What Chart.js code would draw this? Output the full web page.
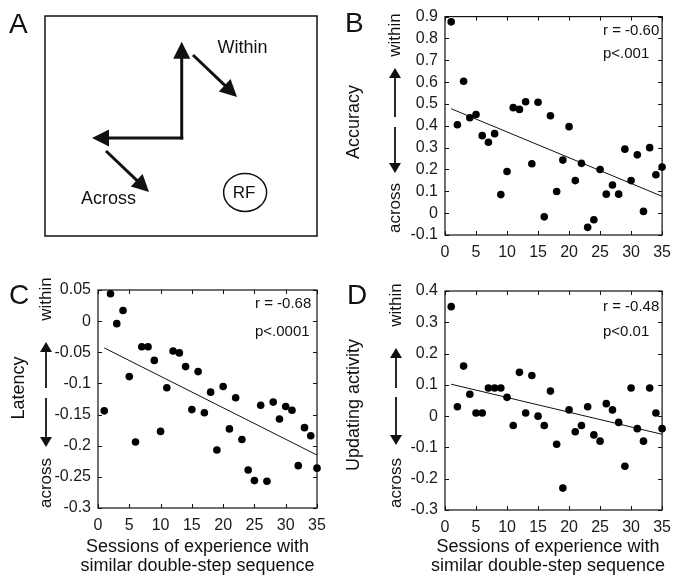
<!DOCTYPE html>
<html><head><meta charset="utf-8">
<script src="https://cdn.jsdelivr.net/npm/chart.js@4.4.0/dist/chart.umd.min.js"></script>
<style>
html,body{margin:0;padding:0;background:#fff;}
#wrap{position:relative;width:679px;height:582px;overflow:hidden;background:#fff;}
canvas{position:absolute;}
</style></head><body>
<div id="wrap">
<canvas id="cA" width="340" height="270" style="left:0;top:0;width:340px;height:270px"></canvas>
<canvas id="cB" width="339" height="270" style="left:340px;top:0;width:339px;height:270px"></canvas>
<canvas id="cC" width="340" height="312" style="left:0;top:270px;width:340px;height:312px"></canvas>
<canvas id="cD" width="339" height="312" style="left:340px;top:270px;width:339px;height:312px"></canvas>
</div>
<script>
// ---------- data ----------
const sessions = [1,2,3,4,5,6,7,8,9,10,11,12,13,14,15,16,17,18,19,20,21,22,23,24,25,26,27,28,29,30,31,32,33,34,35];
const accuracy = [0.876,0.405,0.604,0.437,0.452,0.355,0.325,0.364,0.085,0.191,0.483,0.475,0.51,0.226,0.508,-0.017,0.446,0.099,0.243,0.396,0.149,0.228,-0.065,-0.03,0.2,0.087,0.129,0.087,0.293,0.149,0.267,0.008,0.3,0.176,0.211];
const latency = [-0.144,0.044,-0.004,0.017,-0.089,-0.194,-0.041,-0.041,-0.063,-0.177,-0.107,-0.048,-0.051,-0.073,-0.142,-0.081,-0.147,-0.114,-0.207,-0.105,-0.173,-0.123,-0.19,-0.239,-0.256,-0.135,-0.257,-0.13,-0.157,-0.137,-0.143,-0.232,-0.171,-0.184,-0.236];
const updating = [0.35,0.03,0.16,0.07,0.01,0.01,0.09,0.09,0.09,0.06,-0.03,0.14,0.01,0.13,0,-0.03,0.08,-0.09,-0.23,0.02,-0.05,-0.03,0.03,-0.06,-0.08,0.04,0.02,-0.02,-0.16,0.09,-0.04,-0.08,0.09,0.01,-0.04];
const fitSessions = [1, 35];
const accuracyFit = [0.478, 0.077];
const latencyFit = [-0.043, -0.215];
const updatingFit = [0.102, -0.058];
const xTickValues = [0,5,10,15,20,25,30,35];
const accuracyTicks = [-0.1,0,0.1,0.2,0.3,0.4,0.5,0.6,0.7,0.8,0.9];
const latencyTicks = [-0.3,-0.25,-0.2,-0.15,-0.1,-0.05,0,0.05];
const updatingTicks = [-0.3,-0.2,-0.1,0,0.1,0.2,0.3,0.4];
const statsB = ['r = -0.60','p<.001'];
const statsC = ['r = -0.68','p<.0001'];
const statsD = ['r = -0.48','p<0.01'];
const xTitleLines = ['Sessions of experience with','similar double-step sequence'];

// diagram (panel A), in box units 0..100
const arrowFromX = [50.26, 50.81, 54.41, 22.43];
const arrowFromY = [43.86, 44.55, 82.27, 38.64];
const arrowToX   = [50.26, 17.28, 70.59, 38.24];
const arrowToY   = [88.32, 44.55, 63.18, 20.0];
const diagramLabels = ['Within','Across','RF'];
const diagramLabelX = [72.6, 23.35, 73.2];
const diagramLabelY = [85.45, 16.6, 19.8];

// ---------- helpers ----------
const FONT = "'Liberation Sans', Arial, Helvetica, sans-serif";
function f(px){ return px + 'px ' + FONT; }
function arrow(ctx, x1, y1, x2, y2, headLen, headHalf, lw){
  const a = Math.atan2(y2-y1, x2-x1);
  const c = Math.cos(a), s = Math.sin(a);
  const bx = x2 - headLen*c, by = y2 - headLen*s;
  ctx.lineWidth = lw; ctx.lineCap = 'butt';
  ctx.beginPath(); ctx.moveTo(x1,y1); ctx.lineTo(bx + 2*c, by + 2*s); ctx.stroke();
  ctx.beginPath(); ctx.moveTo(x2,y2);
  ctx.lineTo(bx - headHalf*s, by + headHalf*c);
  ctx.lineTo(bx + headHalf*s, by - headHalf*c);
  ctx.closePath(); ctx.fill();
}
function vtext(ctx, txt, x, y, size){
  ctx.save(); ctx.translate(x,y); ctx.rotate(-Math.PI/2);
  ctx.font = f(size); ctx.textAlign='center'; ctx.textBaseline='middle';
  ctx.fillText(txt, 0, 0); ctx.restore();
}

// ---------- panel A ----------
const diagramPlugin = {
  id:'diagram',
  afterDraw(chart){
    const ctx = chart.ctx, xs = chart.scales.x, ys = chart.scales.y, ca = chart.chartArea;
    ctx.save();
    ctx.fillStyle = '#111'; ctx.strokeStyle = '#111';
    ctx.font = f(28); ctx.textAlign='left'; ctx.textBaseline='alphabetic';
    ctx.fillText('A', 9, 33);
    ctx.lineWidth = 1.5;
    ctx.strokeRect(ca.left, ca.top, ca.right-ca.left, ca.bottom-ca.top);
    for (let i=0;i<arrowFromX.length;i++){
      arrow(ctx, xs.getPixelForValue(arrowFromX[i]), ys.getPixelForValue(arrowFromY[i]),
                 xs.getPixelForValue(arrowToX[i]), ys.getPixelForValue(arrowToY[i]), 17, 8.5, 3);
    }
    ctx.textAlign='center'; ctx.textBaseline='middle';
    ctx.font = f(18);
    ctx.fillText(diagramLabels[0], xs.getPixelForValue(diagramLabelX[0]), ys.getPixelForValue(diagramLabelY[0]));
    ctx.fillText(diagramLabels[1], xs.getPixelForValue(diagramLabelX[1]), ys.getPixelForValue(diagramLabelY[1]));
    const rx = xs.getPixelForValue(diagramLabelX[2]), ry = ys.getPixelForValue(diagramLabelY[2]);
    ctx.font = f(17);
    ctx.fillText(diagramLabels[2], rx, ry + 1);
    ctx.lineWidth = 1.5;
    ctx.beginPath(); ctx.ellipse(rx + 1, ry, 21.5, 19, 0, 0, Math.PI*2); ctx.stroke();
    ctx.restore();
  }
};
new Chart(document.getElementById('cA'), {
  type:'scatter',
  data:{datasets:[]},
  options:{
    responsive:false, animation:false, events:[],
    layout:{padding:{left:45, top:16, right:23, bottom:34}},
    plugins:{legend:{display:false}, tooltip:{enabled:false}},
    scales:{ x:{type:'linear', min:0, max:100, display:false}, y:{type:'linear', min:0, max:100, display:false} }
  },
  plugins:[diagramPlugin]
});

// ---------- scatter panels ----------
function makeAnnot(cfg){
  return {
    id:'annot',
    beforeDatasetsDraw(chart){
      const ctx = chart.ctx, ca = chart.chartArea, xs = chart.scales.x, ys = chart.scales.y;
      ctx.save(); ctx.strokeStyle = '#111'; ctx.lineWidth = 1.2;
      ctx.strokeRect(ca.left, ca.top, ca.right-ca.left, ca.bottom-ca.top);
      ctx.lineWidth = 1;
      ctx.beginPath();
      xs.ticks.forEach(t => { const p = Math.round(xs.getPixelForValue(t.value))+0.5;
        ctx.moveTo(p, ca.bottom); ctx.lineTo(p, ca.bottom-4);
        ctx.moveTo(p, ca.top); ctx.lineTo(p, ca.top+4); });
      ys.ticks.forEach(t => { const p = Math.round(ys.getPixelForValue(t.value))+0.5;
        ctx.moveTo(ca.left, p); ctx.lineTo(ca.left+4, p);
        ctx.moveTo(ca.right, p); ctx.lineTo(ca.right-4, p); });
      ctx.stroke(); ctx.restore();
    },
    afterDraw(chart){
      const ctx = chart.ctx, ca = chart.chartArea;
      ctx.save(); ctx.fillStyle = '#111'; ctx.strokeStyle = '#111';
      ctx.font = f(28); ctx.textAlign='left'; ctx.textBaseline='alphabetic';
      ctx.fillText(cfg.letter, cfg.letterX, cfg.letterBase);
      vtext(ctx, cfg.title, cfg.titleX, cfg.titleY, 18);
      vtext(ctx, 'within', cfg.arrowX, cfg.withinY, 17);
      vtext(ctx, 'across', cfg.arrowX, cfg.acrossY, 17);
      arrow(ctx, cfg.arrowX, cfg.upFrom, cfg.arrowX, cfg.upTo, 10, 6, 1.8);
      arrow(ctx, cfg.arrowX, cfg.downFrom, cfg.arrowX, cfg.downTo, 10, 6, 1.8);
      ctx.font = f(15); ctx.textAlign='left'; ctx.textBaseline='middle';
      ctx.fillText(cfg.stats[0], ca.left + cfg.statsDX, ca.top + cfg.statsDY[0]);
      ctx.fillText(cfg.stats[1], ca.left + cfg.statsDX, ca.top + cfg.statsDY[1]);
      if (cfg.xTitle){
        ctx.font = f(18); ctx.textAlign='center';
        ctx.fillText(cfg.xTitle[0], cfg.xTitleX, cfg.xTitleY[0]);
        ctx.fillText(cfg.xTitle[1], cfg.xTitleX, cfg.xTitleY[1]);
      }
      ctx.restore();
    }
  };
}

function makePanel(id, yVals, fitVals, yTicks, pad, cfg){
  const tickFont = {family: FONT, size: 16};
  new Chart(document.getElementById(id), {
    type:'scatter',
    data:{datasets:[
      { data: sessions.map((x,i)=>({x:x, y:yVals[i]})), pointRadius:3.8, pointHoverRadius:3.8,
        backgroundColor:'#000', borderWidth:0, clip:false },
      { type:'line', data: fitSessions.map((x,i)=>({x:x, y:fitVals[i]})), borderColor:'#111',
        borderWidth:1, pointRadius:0, fill:false, clip:false }
    ]},
    options:{
      responsive:false, animation:false, events:[],
      layout:{padding:pad},
      plugins:{legend:{display:false}, tooltip:{enabled:false}},
      scales:{
        x:{ type:'linear', min:0, max:35,
            afterBuildTicks: s => { s.ticks = xTickValues.map(v => ({value:v})); },
            afterFit: s => { s.height = 30; },
            grid:{display:false, drawTicks:false}, border:{display:false},
            ticks:{font:tickFont, color:'#1a1a1a', padding:8, maxRotation:0, autoSkip:false, callback: v => String(v)} },
        y:{ type:'linear', min:yTicks[0], max:yTicks[yTicks.length-1],
            afterBuildTicks: s => { s.ticks = yTicks.map(v => ({value:v})); },
            afterFit: s => { s.width = 50; },
            grid:{display:false, drawTicks:false}, border:{display:false},
            ticks:{font:tickFont, color:'#1a1a1a', padding:7, autoSkip:false, callback: v => String(v)} }
      }
    },
    plugins:[makeAnnot(cfg)]
  });
}

makePanel('cB', accuracy, accuracyFit, accuracyTicks, {left:55, right:14, top:14, bottom:5},
  {letter:'B', letterX:5, letterBase:32, title:'Accuracy', titleX:14.5, titleY:122,
   arrowX:55, withinY:35, upFrom:117, upTo:68, downFrom:127, downTo:173, acrossY:208,
   stats:statsB, statsDX:158, statsDY:[14,37], xTitle:null});
makePanel('cC', latency, latencyFit, latencyTicks, {left:48, right:23, top:20, bottom:44},
  {letter:'C', letterX:9, letterBase:34, title:'Latency', titleX:19, titleY:118,
   arrowX:46, withinY:29, upFrom:118, upTo:72, downFrom:128, downTo:177, acrossY:213,
   stats:statsC, statsDX:157, statsDY:[14,42], xTitle:xTitleLines, xTitleX:197.5, xTitleY:[277,296]});
makePanel('cD', updating, updatingFit, updatingTicks, {left:55, right:13, top:21, bottom:42},
  {letter:'D', letterX:7, letterBase:34, title:'Updating activity', titleX:14.5, titleY:135,
   arrowX:56, withinY:35, upFrom:118, upTo:78, downFrom:127, downTo:175, acrossY:213,
   stats:statsD, statsDX:158, statsDY:[16,41], xTitle:xTitleLines, xTitleX:208, xTitleY:[277,296]});
</script>
</body></html>
